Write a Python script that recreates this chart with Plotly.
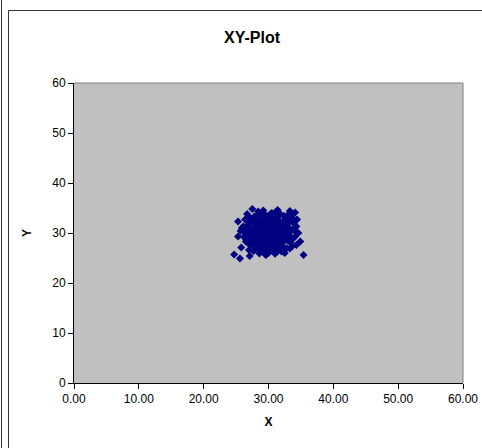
import plotly.graph_objects as go

# Data (X, Y pairs)
x_vals = [
    27.5, 29.2, 31.4, 33.3, 34.1, 26.7, 25.3, 26.1, 24.7, 25.6,
    27.1, 29.6, 35.4, 25.8, 25.3, 34.9, 34.3, 34.6, 33.8, 31.0,
    32.0, 33.3, 30.2, 28.2,
    28.1, 29.4, 30.7, 31.3, 29.9, 28.8, 30.2, 31.9, 32.6, 27.5,
    29.1, 30.5, 31.8, 28.4, 29.6, 31.1, 32.3, 33.1, 27.2, 26.8,
    27.9, 30.9, 29.3, 28.6, 31.6, 32.9, 30.1, 29.7, 30.4, 28.9,
    32.1, 33.4, 27.4, 26.9, 33.7, 33.2, 31.4, 29.9, 28.3, 27.1,
    30.8, 29.2, 31.7, 28.2, 32.8, 26.5, 34.1, 33.9, 30.3, 29.5,
    31.0, 28.7, 32.4, 27.8, 30.6, 29.0, 31.5, 28.0, 32.0, 30.0,
    29.8, 31.2, 28.5, 32.7, 27.6, 33.5, 26.7, 30.3, 28.9, 31.9,
    33.0, 27.3, 26.2, 25.9, 34.3, 33.6, 27.0, 28.6, 31.3, 32.5,
    30.0, 29.5, 34.4, 26.4, 30.6, 29.3, 31.7, 28.3, 30.2, 29.0,
    31.8, 32.2, 28.0, 30.9, 29.7, 27.7, 33.3, 31.4, 28.8, 30.5,
    29.0, 30.0, 31.0, 28.5, 29.5, 30.5, 31.5, 30.8, 29.2, 28.2,
    27.3, 27.0, 28.0, 29.6, 30.9, 32.3, 32.9, 33.2, 32.5, 32.7,
    31.2, 30.0, 28.6, 27.9, 30.4, 29.8, 31.9, 28.9, 30.6, 29.1,
    31.4, 29.9, 28.7, 30.2, 32.0, 33.0, 33.8, 27.7, 26.9, 26.3,
    27.8, 29.4, 31.1, 32.4, 33.6, 34.0, 26.6, 32.2, 30.7, 29.3,
    28.1, 31.6, 32.8, 27.4, 29.6, 31.0, 30.5, 28.4, 33.4, 25.7,
]
y_vals = [
    34.8, 34.5, 34.6, 34.4, 34.1, 33.8, 32.3, 31.3, 25.7, 24.9,
    25.4, 25.6, 25.6, 27.1, 29.3, 28.3, 31.3, 30.0, 32.9, 25.9,
    26.3, 26.9, 33.3, 33.3,
    31.2, 30.1, 29.5, 30.8, 31.9, 29.2, 28.4, 29.1, 30.4, 30.3,
    32.7, 32.3, 32.1, 28.1, 27.6, 27.9, 28.2, 29.6, 28.9, 31.6,
    32.5, 31.1, 28.8, 30.6, 31.5, 31.3, 30.4, 29.3, 27.1, 27.4,
    27.3, 28.1, 27.6, 29.8, 30.7, 32.4, 33.1, 33.4, 33.6, 33.1,
    26.6, 26.4, 26.8, 26.9, 27.0, 28.3, 29.3, 31.9, 31.4, 31.0,
    30.2, 31.8, 29.4, 29.5, 28.9, 30.4, 28.6, 28.6, 31.9, 29.0,
    32.2, 32.6, 32.9, 32.9, 31.0, 29.0, 30.7, 33.8, 34.0, 33.7,
    33.6, 32.3, 29.2, 31.0, 27.6, 27.3, 26.6, 25.9, 26.2, 26.0,
    26.0, 25.8, 32.7, 32.7, 30.6, 29.8, 29.9, 29.9, 32.8, 28.1,
    28.0, 30.9, 30.8, 27.5, 27.0, 27.9, 30.2, 31.9, 32.1, 31.8,
    31.5, 31.0, 31.7, 30.2, 29.0, 30.0, 30.5, 28.2, 27.9, 27.5,
    30.0, 31.8, 32.0, 32.9, 32.9, 32.4, 31.8, 30.9, 29.9, 28.7,
    29.3, 28.2, 28.9, 28.3, 29.7, 30.7, 30.6, 31.0, 31.3, 29.6,
    27.4, 27.3, 26.7, 26.8, 26.7, 28.5, 28.9, 26.4, 27.9, 30.1,
    33.3, 33.7, 34.2, 33.4, 32.5, 30.5, 31.2, 31.4, 32.4, 32.4,
    29.6, 32.3, 30.1, 29.1, 26.5, 25.9, 34.0, 34.3, 33.5, 30.4,
]
x_ticks = [0, 10, 20, 30, 40, 50, 60]
y_ticks = [0, 10, 20, 30, 40, 50, 60]

W, H = 482, 448
L, R, T, B = 74, 19, 83, 65
pw, ph = W - L - R, H - T - B

def px(xp):
    return (xp - L) / pw

def py(yp):
    return (H - B - yp) / ph

FONT = "Liberation Sans, Arial, sans-serif"

fig = go.Figure()
fig.add_trace(go.Scatter(
    x=x_vals, y=y_vals, mode="markers",
    marker=dict(symbol="diamond", size=6.2, color="#000080", line=dict(width=0)),
    showlegend=False, hoverinfo="x+y",
))

fig.update_layout(
    width=W, height=H, autosize=False,
    margin=dict(l=L, r=R, t=T, b=B, pad=0, autoexpand=False),
    paper_bgcolor="white",
    plot_bgcolor="#C0C0C0",
    font=dict(family=FONT, size=12, color="black"),
    title=dict(text="<b>XY-Plot</b>", x=px(252), xref="paper", xanchor="center",
               y=1 - 37 / H, yref="container", yanchor="middle",
               font=dict(family=FONT, size=16, color="black")),
    xaxis=dict(range=[0, 60], tickvals=x_ticks, ticktext=[f"{v:.2f}" for v in x_ticks],
               automargin=False,
               showgrid=False, zeroline=False, showline=True, linecolor="black", linewidth=1,
               ticks="outside", ticklen=5, tickcolor="black", tickwidth=1,
               tickfont=dict(family=FONT, size=12, color="black"),
               title=dict(text="<b>X</b>", font=dict(family=FONT, size=12, color="black"), standoff=12)),
    yaxis=dict(range=[0, 60], tickvals=y_ticks, automargin=False,
               showgrid=False, zeroline=False, showline=True, linecolor="black", linewidth=1,
               ticks="outside", ticklen=5, tickcolor="black", tickwidth=1,
               tickfont=dict(family=FONT, size=12, color="black"),
               title=dict(text="<b>Y</b>", font=dict(family=FONT, size=12, color="black"), standoff=18)),
)

# plot area border (gray) on top/right
fig.add_shape(type="line", xref="paper", yref="paper", x0=0, x1=1, y0=1, y1=1,
              line=dict(color="#808080", width=1))
fig.add_shape(type="line", xref="paper", yref="paper", x0=1, x1=1, y0=0, y1=1,
              line=dict(color="#808080", width=1))
# chart frame lines (kept inside the figure)
fig.add_shape(type="line", xref="paper", yref="paper", x0=px(8.5), x1=px(482), y0=py(10.5), y1=py(10.5),
              line=dict(color="#333333", width=1))
fig.add_shape(type="line", xref="paper", yref="paper", x0=px(8.5), x1=px(8.5), y0=py(10.5), y1=py(448),
              line=dict(color="#333333", width=1))
fig.add_shape(type="line", xref="paper", yref="paper", x0=px(1.5), x1=px(1.5), y0=py(0), y1=py(448),
              line=dict(color="#333333", width=1))

fig.write_html(
    "out.html",
    config={"displayModeBar": False},
    post_script="document.documentElement.style.overflow='hidden';"
                "document.body.style.overflow='hidden';document.body.style.margin='0';",
)
